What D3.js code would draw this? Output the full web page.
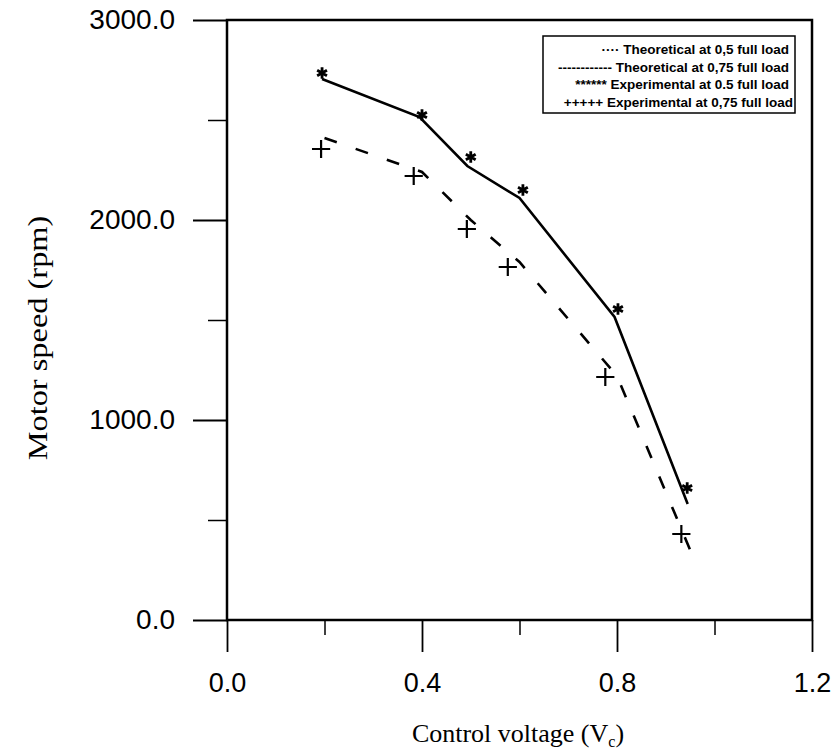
<!DOCTYPE html>
<html>
<head>
<meta charset="utf-8">
<script src="https://cdn.jsdelivr.net/npm/d3@7"></script>
<style>
  body { margin: 0; background: #fff; }
  .tick text { font-family: Arial, "Liberation Sans", sans-serif; fill: #000; }
  .title { font-family: "Times New Roman", "Liberation Serif", serif; fill: #000; }
  .legend text { font-family: Arial, "Liberation Sans", sans-serif; font-weight: bold; font-size: 13.5px; fill: #000; }
</style>
</head>
<body>
<div id="chart"></div>
<script>
// theoretical curves (lines)
const vcTheo05 = [0.195, 0.395, 0.493, 0.6, 0.795, 0.945];
const speedTheo05 = [2705, 2515, 2270, 2110, 1515, 580];
const vcTheo75 = [0.2, 0.4, 0.5, 0.6, 0.8, 0.95];
const speedTheo75 = [2410, 2240, 2000, 1790, 1220, 350];
// experimental points (markers)
const vcExp05 = [0.195, 0.4, 0.5, 0.607, 0.802, 0.944];
const speedExp05 = [2735, 2525, 2315, 2150, 1555, 660];
const vcExp75 = [0.193, 0.383, 0.492, 0.576, 0.776, 0.932];
const speedExp75 = [2355, 2220, 1955, 1765, 1215, 430];

const xMajor = [0, 0.4, 0.8, 1.2];
const xMinor = [0.2, 0.6, 1.0];
const yMajor = [0, 1000, 2000, 3000];
const yMinor = [500, 1500, 2500];

const legendLabels = [
  '\u00b7\u00b7\u00b7\u00b7  Theoretical at 0,5 full load',
  '------------ Theoretical at 0,75 full load',
  '****** Experimental at 0.5 full load',
  '+++++ Experimental at 0,75 full load'
];

const W = 832, H = 754;
const margin = { top: 20, right: 20, bottom: 134, left: 227 };
const width = W - margin.left - margin.right;
const height = H - margin.top - margin.bottom;

const svg = d3.select('#chart').append('svg')
  .attr('width', W)
  .attr('height', H);

const g = svg.append('g')
  .attr('transform', `translate(${margin.left},${margin.top})`);

const x = d3.scaleLinear().domain([0, 1.2]).range([0, width]);
const y = d3.scaleLinear().domain([0, 3000]).range([height, 0]);

// frame
g.append('rect')
  .attr('width', width)
  .attr('height', height)
  .attr('fill', 'none')
  .attr('stroke', '#000')
  .attr('stroke-width', 2.5);

// y axis
const yAxis = g.append('g')
  .call(d3.axisLeft(y).tickValues(yMajor).tickSize(34).tickSizeOuter(0)
    .tickPadding(18).tickFormat(d3.format('.1f')));
yAxis.select('.domain').remove();
yAxis.selectAll('line').attr('stroke-width', 1.8);
yAxis.selectAll('text').style('font-size', '28px');

const yMinorAxis = g.append('g')
  .call(d3.axisLeft(y).tickValues(yMinor).tickSize(19).tickFormat(''));
yMinorAxis.select('.domain').remove();
yMinorAxis.selectAll('line').attr('stroke-width', 1.5);

// x axis
const xAxis = g.append('g')
  .attr('transform', `translate(0,${height})`)
  .call(d3.axisBottom(x).tickValues(xMajor).tickSize(32).tickSizeOuter(0)
    .tickPadding(21).tickFormat(d3.format('.1f')));
xAxis.select('.domain').remove();
xAxis.selectAll('line').attr('stroke-width', 1.8);
xAxis.selectAll('text').style('font-size', '27px');

const xMinorAxis = g.append('g')
  .attr('transform', `translate(0,${height})`)
  .call(d3.axisBottom(x).tickValues(xMinor).tickSize(15).tickFormat(''));
xMinorAxis.select('.domain').remove();
xMinorAxis.selectAll('line').attr('stroke-width', 1.5);

// axis titles (the scanned y title is stretched along its length)
svg.append('text')
  .attr('class', 'title')
  .attr('transform', `translate(47,338) rotate(-90) scale(1.2,1)`)
  .attr('text-anchor', 'middle')
  .style('font-size', '27px')
  .text('Motor speed (rpm)');

const xt = svg.append('text')
  .attr('class', 'title')
  .attr('x', 518)
  .attr('y', 742)
  .attr('text-anchor', 'middle')
  .style('font-size', '26px');
xt.append('tspan').text('Control voltage (V');
xt.append('tspan').attr('dy', 5).style('font-size', '16px').text('c');
xt.append('tspan').attr('dy', -5).text(')');

// lines
const line = d3.line().x(d => x(d[0])).y(d => y(d[1]));
const theo05 = vcTheo05.map((v, i) => [v, speedTheo05[i]]);
const theo75 = vcTheo75.map((v, i) => [v, speedTheo75[i]]);
const exp05 = vcExp05.map((v, i) => [v, speedExp05[i]]);
const exp75 = vcExp75.map((v, i) => [v, speedExp75[i]]);

g.append('path')
  .datum(theo05)
  .attr('d', line)
  .attr('fill', 'none')
  .attr('stroke', '#000')
  .attr('stroke-width', 2.6);

g.append('path')
  .datum(theo75)
  .attr('d', line)
  .attr('fill', 'none')
  .attr('stroke', '#000')
  .attr('stroke-width', 2.6)
  .attr('stroke-dasharray', '13,20');

// markers
g.selectAll('.star')
  .data(exp05)
  .enter().append('path')
  .attr('class', 'star')
  .attr('transform', d => `translate(${x(d[0])},${y(d[1])})`)
  .attr('d', d3.symbol(d3.symbolAsterisk, 90))
  .attr('fill', 'none')
  .attr('stroke', '#000')
  .attr('stroke-width', 2.8);

g.selectAll('.plus')
  .data(exp75)
  .enter().append('path')
  .attr('class', 'plus')
  .attr('transform', d => `translate(${x(d[0])},${y(d[1])})`)
  .attr('d', d3.symbol(d3.symbolPlus, 110))
  .attr('fill', 'none')
  .attr('stroke', '#000')
  .attr('stroke-width', 2.2);

// legend
const legend = svg.append('g').attr('class', 'legend');
legend.append('rect')
  .attr('x', 543).attr('y', 36)
  .attr('width', 252).attr('height', 77)
  .attr('fill', '#fff')
  .attr('stroke', '#000')
  .attr('stroke-width', 1.5);
legend.selectAll('text')
  .data(legendLabels)
  .enter().append('text')
  .attr('x', (d, i) => i === 3 ? 793 : 789)
  .attr('y', (d, i) => 54 + i * 17.5)
  .attr('text-anchor', 'end')
  .text(d => d);
</script>
</body>
</html>
